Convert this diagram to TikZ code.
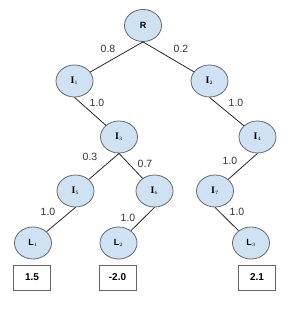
\documentclass[tikz,border=0pt]{standalone}
\usepackage{fontspec}
\setmainfont{Liberation Sans}
\newfontfamily\iserif{Liberation Serif}
\definecolor{nodefill}{HTML}{CFE2F3}
\definecolor{nodeline}{HTML}{666666}
\definecolor{labelgray}{HTML}{333333}
\begin{document}
\begin{tikzpicture}[x=1pt,y=-1pt,
  tn/.style={ellipse, draw=nodeline, fill=nodefill, line width=0.8pt,
    minimum width=37pt, minimum height=32pt, inner sep=0pt,
    font=\fontsize{9}{10}\selectfont\bfseries},
  vbox/.style={rectangle, draw=nodeline, line width=0.8pt, fill=white,
    minimum width=37pt, minimum height=25pt, inner sep=0pt,
    font=\fontsize{10}{11}\selectfont\bfseries},
  edge/.style={draw=black!85, line width=0.8pt},
  elab/.style={text=labelgray, font=\fontsize{10.5}{12}\selectfont, inner sep=0pt}]
\usetikzlibrary{shapes.geometric}
\useasboundingbox (0,0) rectangle (301,312);
\newcommand{\Inode}[1]{{\fontsize{10}{11}\selectfont\iserif\bfseries I}$_{\scriptscriptstyle #1}$}
\newcommand{\Lnode}[1]{L$_{\scriptscriptstyle #1}$}
\node[tn] (R)  at (143,25.5) {R};
\node[tn] (I1) at (74.5,81) {\Inode{1}};
\node[tn] (I2) at (209.5,81) {\Inode{2}};
\node[tn] (I3) at (119,137) {\Inode{3}};
\node[tn] (I4) at (257.5,137) {\Inode{4}};
\node[tn] (I5) at (75.5,191) {\Inode{5}};
\node[tn] (I6) at (154.5,191) {\Inode{6}};
\node[tn] (I7) at (215,191) {\Inode{7}};
\node[tn] (L1) at (33,243) {\Lnode{1}};
\node[tn] (L2) at (118.5,243) {\Lnode{2}};
\node[tn] (L3) at (251,243) {\Lnode{3}};
\node[vbox] (V1) at (32,277.5) {1.5};
\node[vbox] (V2) at (117.5,277.5) {-2.0};
\node[vbox] (V3) at (257,277.5) {2.1};
\draw[edge] (R.south) -- (I1);
\draw[edge] (R.south) -- (I2);
\draw[edge] (I1.south) -- (I3);
\draw[edge] (I2.south) -- (I4);
\draw[edge] (I3.south) -- (I5);
\draw[edge] (I3.south) -- (I6);
\draw[edge] (I4.south) -- (I7);
\draw[edge] (I5.south) -- (L1);
\draw[edge] (I6.south) -- (L2);
\draw[edge] (I7.south) -- (L3);
\node[elab] (e1) at (108,49) {0.8};
\node[elab] (e2) at (181,49) {0.2};
\node[elab] (e3) at (97,103) {1.0};
\node[elab] (e4) at (236,103) {1.0};
\node[elab] (e5) at (90,157) {0.3};
\node[elab] (e6) at (145,164) {0.7};
\node[elab] (e7) at (230,161) {1.0};
\node[elab] (e8) at (48,212) {1.0};
\node[elab] (e9) at (128,218) {1.0};
\node[elab] (e10) at (237,212) {1.0};
\end{tikzpicture}
\end{document}
